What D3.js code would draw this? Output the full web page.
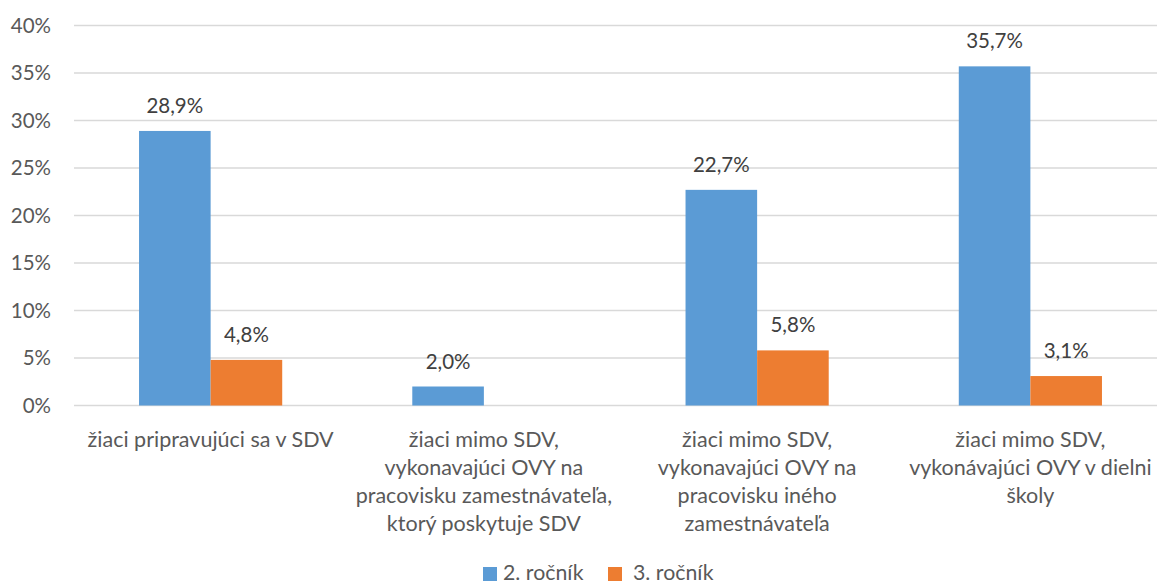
<!DOCTYPE html>
<html><head><meta charset="utf-8">
<script src="https://cdn.jsdelivr.net/npm/d3@7"></script>
<style>
html,body{margin:0;padding:0;background:#fff;overflow:hidden}
text{font-family:Lato,"Open Sans",sans-serif}
</style></head>
<body><svg id="c" width="1157" height="585"></svg>
<script>
const categories = [
  ["žiaci pripravujúci sa v SDV"],
  ["žiaci mimo SDV,", "vykonavajúci OVY na", "pracovisku zamestnávateľa,", "ktorý poskytuje SDV"],
  ["žiaci mimo SDV,", "vykonavajúci OVY na", "pracovisku iného", "zamestnávateľa"],
  ["žiaci mimo SDV,", "vykonávajúci OVY v dielni", "školy"]
];
const seriesNames = ["2. ročník", "3. ročník"];
const values2 = [28.9, 2.0, 22.7, 35.7];
const values3 = [4.8, null, 5.8, 3.1];
const yTicks = [0, 5, 10, 15, 20, 25, 30, 35, 40];
const colors = ["#5B9BD5", "#ED7D31"];

const svg = d3.select("#c");
const pL = 74, pR = 1167, pT = 25.5, pB = 405.5;
const x = d3.scaleBand().domain(d3.range(categories.length)).range([pL, pR]).paddingInner(0.476).paddingOuter(0.238);
const xs = d3.scaleBand().domain([0, 1]).range([0, x.bandwidth()]);
const y = d3.scaleLinear().domain([0, 40]).range([pB, pT]);

// grid
svg.append("g").selectAll("line").data(yTicks).join("line")
  .attr("x1", pL).attr("x2", 1157)
  .attr("y1", d => y(d)).attr("y2", d => y(d))
  .attr("stroke", "#D9D9D9").attr("stroke-width", 1.3);

// y tick labels
svg.append("g").selectAll("text").data(yTicks).join("text")
  .attr("x", 51).attr("y", d => y(d)).attr("dy", "0.36em")
  .attr("text-anchor", "end").attr("fill", "#595959").attr("font-size", 20.5)
  .text(d => d + "%");

const series = [values2, values3];
const fmt = v => v.toFixed(1).replace(".", ",") + "%";
series.forEach((vals, si) => {
  const data = vals.map((v, i) => ({v, i})).filter(d => d.v != null);
  svg.append("g").selectAll("rect").data(data).join("rect")
    .attr("x", d => x(d.i) + xs(si)).attr("width", xs.bandwidth())
    .attr("y", d => y(d.v)).attr("height", d => y(0) - y(d.v))
    .attr("fill", colors[si]);
  svg.append("g").selectAll("text").data(data).join("text")
    .attr("x", d => x(d.i) + xs(si) + xs.bandwidth() / 2)
    .attr("y", d => y(d.v) - 18)
    .attr("text-anchor", "middle").attr("fill", "#404040").attr("font-size", 20.5)
    .text(d => fmt(d.v));
});

// category labels
const cg = svg.append("g").selectAll("text").data(categories).join("text")
  .attr("text-anchor", "middle").attr("fill", "#595959").attr("font-size", 21.5)
  .attr("transform", (d, i) => `translate(${x(i) + x.bandwidth() / 2},447)`);
cg.selectAll("tspan").data(d => d).join("tspan")
  .attr("x", 0).attr("y", (d, j) => j * 28).text(d => d);

// legend
const lg = svg.append("g");
const legX = [483, 608];
seriesNames.forEach((n, i) => {
  lg.append("rect").attr("x", legX[i]).attr("y", 567).attr("width", 14).attr("height", 14).attr("fill", colors[i]);
  lg.append("text").attr("x", legX[i] + 20 + (i ? 5 : 0)).attr("y", 579.5).attr("fill", "#595959").attr("font-size", 21.3).text(n);
});
</script></body></html>
